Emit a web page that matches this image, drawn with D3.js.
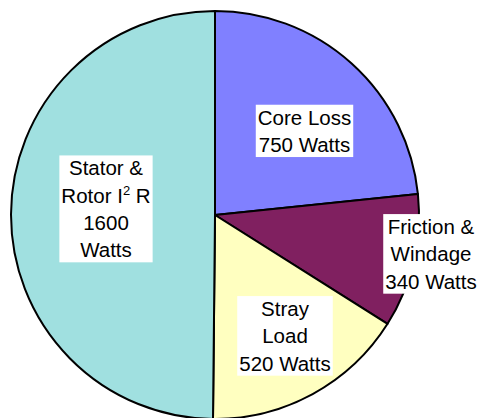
<!DOCTYPE html>
<html><head><meta charset="utf-8">
<script src="https://cdn.jsdelivr.net/npm/d3@7"></script>
<style>html,body{margin:0;padding:0;background:#fff;overflow:hidden}</style>
</head><body>
<svg id="chart" width="477" height="418"></svg>
<script>
const categories = ["Core Loss", "Friction & Windage", "Stray Load", "Stator & Rotor I2R"];
const values = [750, 340, 520, 1600];
const colors = ["#8080FF", "#802060", "#FFFFC0", "#A0E0E0"];
const labelLines = [
  ["Core Loss", "750 Watts"],
  ["Friction &", "Windage", "340 Watts"],
  ["Stray", "Load", "520 Watts"],
  ["Stator &", "Rotor I2 R", "1600", "Watts"]
];

const svg = d3.select("#chart");
const cx = 215, cy = 215, r = 204;
const g = svg.append("g").attr("transform", `translate(${cx},${cy})`);
const pie = d3.pie().sort(null).value(d => d)(values);
const arc = d3.arc().innerRadius(0).outerRadius(r);
g.selectAll("path").data(pie).enter().append("path")
  .attr("d", arc).attr("fill", (d, i) => colors[i])
  .attr("stroke", "#000").attr("stroke-width", 2).attr("stroke-linejoin", "round");

const labelPos = [
  {x: 304.5, y: 131},
  {x: 431, y: 254},
  {x: 285, y: 336},
  {x: 106, y: 209}
];
const lineH = 27.3;
const fs = 20.5;
labelLines.forEach((lines, i) => {
  const p = labelPos[i];
  const lg = svg.append("g");
  const n = lines.length;
  const t = lg.append("text")
    .attr("font-family", "Liberation Sans, Arial, sans-serif")
    .attr("font-size", fs).attr("fill", "#000").attr("text-anchor", "middle");
  lines.forEach((ln, j) => {
    const ty = p.y + (j - (n - 1) / 2) * lineH + fs * 0.36;
    const ts = t.append("tspan").attr("x", p.x).attr("y", ty);
    if (ln === "Rotor I2 R") {
      ts.text("Rotor I");
      ts.append("tspan").attr("dy", -8).attr("font-size", 13).text("2");
      ts.append("tspan").attr("dy", 8).text(" R");
    } else ts.text(ln);
  });
  const bb = t.node().getBBox();
  lg.insert("rect", "text")
    .attr("x", bb.x - 2).attr("y", bb.y - 1)
    .attr("width", bb.width + 4).attr("height", bb.height + 2)
    .attr("fill", "#fff");
});
</script>
</body></html>
